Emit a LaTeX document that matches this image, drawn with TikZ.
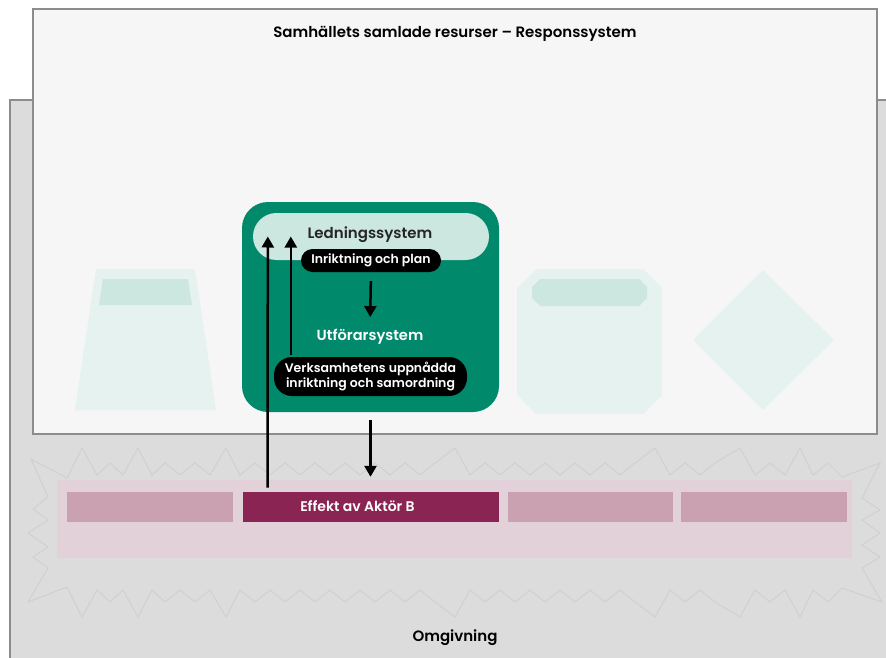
\documentclass[tikz,border=0pt]{standalone}
\usepackage{fontspec}
\setmainfont{Poppins}[BoldFont={Poppins SemiBold}]
\usetikzlibrary{arrows.meta}

\definecolor{omgGray}{HTML}{DCDCDC}
\definecolor{edgeGray}{HTML}{8C8C8C}
\definecolor{paperGray}{HTML}{F6F6F6}
\definecolor{burstGray}{HTML}{D0D0D0}
\definecolor{bandPink}{HTML}{E3D1D9}
\definecolor{blockPink}{HTML}{C9A1B1}
\definecolor{aktorRed}{HTML}{8A2553}
\definecolor{respGreen}{HTML}{00896A}
\definecolor{ledGreen}{HTML}{CCE6E0}
\definecolor{ghostGreen}{HTML}{E6F2EF}

\begin{document}
\begin{tikzpicture}[x=1pt, y=-1pt]
    % top edge of the burst (the bottom edge is its mirror)
    \def\ridge{67/478, 82/448, 97/475, 110/463, 123/475, 138/448, 152/475, 165/463, 180/475, 195/463, 210/475, 226/448, 240/475, 255/463, 270/475, 285/463, 300/475, 315/463, 330/475, 345/463, 360/475, 375/463, 390/475, 405/463, 420/475, 435/463, 455/448, 470/475, 485/463, 500/475, 515/463, 530/475, 545/463, 560/475, 575/463, 590/475, 605/463, 620/475, 635/463, 655/448, 670/475, 685/463, 700/475, 715/463, 740/448, 755/475, 770/463, 785/475, 800/448, 813/475, 828/463, 842/477}

    % --- DEFINE STYLES ---
    % Style for the black labels in the green box
    \tikzstyle{flowtag} = [fill=black, text=white, align=center, inner sep=0pt, font=\bfseries\fontsize{12.5}{14.5}\selectfont]
    % Style for the effect blocks
    \tikzstyle{effblock} = [draw=bandPink, line width=0.8pt, inner sep=0pt, minimum height=31pt]
    % Style for the arrows
    \tikzstyle{flow} = [line width=2.5pt, -{Triangle[width=12pt, length=11pt]}]
    % Style for the faded shapes
    \tikzstyle{ghost} = [fill=ghostGreen]
    \tikzstyle{burst} = [draw=burstGray, line width=1pt]

    \useasboundingbox (0,0) rectangle (886,658);
    \clip (0,0) rectangle (886,658);

    % Frames
    \draw[fill=omgGray, draw=edgeGray, line width=1.5pt] (10,100) rectangle (900,680);
    \draw[fill=paperGray, draw=edgeGray, line width=1.5pt] (33,9) rectangle (877,434);

    % Burst
    \draw[burst] (28,602) -- (48,568) -- (33,557) -- (48,547) -- (28,533) -- (48,520) -- (33,509) -- (48,497) -- (31,459)
        foreach \x/\y in \ridge { -- (\x,\y) }
        -- (880,463) -- (862,498) -- (880,510) -- (862,520) -- (880,533) -- (862,545) -- (880,557) -- (862,568) -- (882,602);
    \draw[burst] (28,602) foreach \x/\y in \ridge { -- (\x,{1065-\y}) } -- (882,602);

    % Faded shapes
    \fill[ghost] (96,269) -- (195,269) -- (216,410) -- (75,410) -- cycle;
    \fill[ledGreen] (103,279) -- (188,279) -- (192,305) -- (99,305) -- cycle;
    \fill[ghost] (536,269) -- (643,269) -- (662,288) -- (662,395) -- (643,414) -- (536,414) -- (517,395) -- (517,288) -- cycle;
    \fill[ledGreen] (540,279) -- (639,279) -- (647,287) -- (647,298) -- (639,306) -- (540,306) -- (532,298) -- (532,287) -- cycle;
    \fill[ghost] (763,270) -- (834,340) -- (763,410) -- (693,340) -- cycle;

    % Effect band
    \node[fill=bandPink, inner sep=0pt, minimum width=795pt, minimum height=78pt] (band) at (454.5,519) {};
    \foreach \i/\cx/\w in {1/149.5/167, 3/590/166, 4/763.5/167}
        \node[effblock, fill=blockPink, minimum width=\w pt] (block\i) at (\cx,506.5) {};
    \node[effblock, fill=aktorRed, text=white, minimum width=257pt, font=\bfseries\fontsize{14}{16}\selectfont] (effekt) at (370.5,506.5) {Effekt av Aktör B\hspace*{26pt}};

    % Green box
    \node[fill=respGreen, rounded corners=26pt, inner sep=0pt, minimum width=257pt, minimum height=210pt] (respbox) at (370.5,307) {};
    \node[fill=ledGreen, rounded corners=23.5pt, inner sep=0pt, minimum width=236pt, minimum height=47pt] (ledpill) at (371,236.5) {};
    \node[anchor=base, font=\bfseries\fontsize{15}{17}\selectfont, text=black!85] (ledning) at (370,238) {Ledningssystem};
    \node[flowtag, rounded corners=11.5pt, minimum width=140pt, minimum height=23pt] (plan) at (371,260.5) {Inriktning och plan};
    \node[anchor=base, font=\bfseries\fontsize{14.6}{17}\selectfont, text=white] (utf) at (370,340) {Utförarsystem};
    \node[flowtag, rounded corners=18pt, minimum width=193pt, minimum height=39pt] (uppnadd) at (370.5,376.5) {Verksamhetens uppnådda\\inriktning och samordning};

    % Arrows
    \draw[flow, shorten <=9pt, shorten >=8pt] (plan.south) -- (utf.north);
    \draw[flow] ([xshift=17pt, yshift=2pt]uppnadd.north west) -- ([xshift=38pt]ledpill.west);
    \draw[flow] ([xshift=26pt, yshift=3pt]effekt.north west) -- ([xshift=15pt]ledpill.west);
    \draw[flow, shorten <=8pt, shorten >=3pt] (respbox.south) -- (respbox.south |- band.north);

    % Titles
    \node[anchor=base, font=\bfseries\fontsize{15}{17}\selectfont] (title) at (455,38) {Samhällets samlade resurser – Responssystem};
    \node[anchor=base, font=\bfseries\fontsize{15}{17}\selectfont] (omg) at (455,641) {Omgivning};
\end{tikzpicture}
\end{document}
